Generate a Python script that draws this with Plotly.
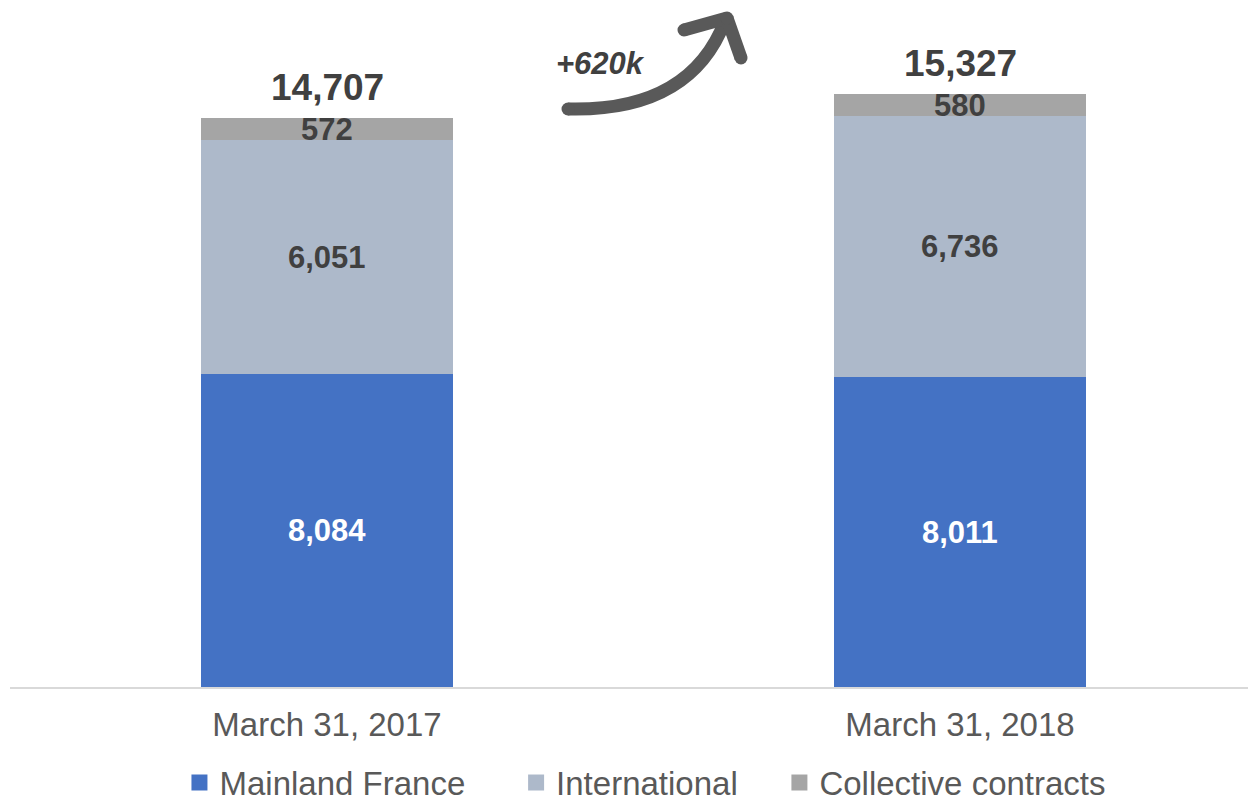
import plotly.graph_objects as go

categories = ["March 31, 2017", "March 31, 2018"]
mainland = [8084, 8011]
international = [6051, 6736]
collective = [572, 580]
series_names = ["Mainland France", "International", "Collective contracts"]
legend_pad = [5, 4, 0]
colors = ["#4472C4", "#ADB9CA", "#A5A5A5"]

totals = [a + b + c for a, b, c in zip(mainland, international, collective)]
xs = list(range(len(categories)))

# page body has an 8px margin; figure starts at (8, 8) in the screenshot
OFF = 8
W, H = 1256 - OFF, 799 - OFF
ML, MR, MT, MB = 10 - OFF, 0, 0, 799 - 687
PW, PH = W - ML - MR, H - MT - MB

def px(x, y):
    # screenshot pixel -> paper coords
    return (x - OFF - ML) / PW, (H - MB - (y - OFF)) / PH

fig = go.Figure()
series = [mainland, international, collective]
for name, vals, col in zip(series_names, series, colors):
    fig.add_trace(go.Bar(x=xs, y=vals, name=name, marker=dict(color=col, line=dict(width=0)),
                         width=0.398, showlegend=False, hoverinfo="skip"))
for name, col, pad in zip(series_names, colors, legend_pad):
    fig.add_trace(go.Scatter(x=[None], y=[None], mode="markers", name=name + "\u00a0" * pad,
                             marker=dict(symbol="square", size=21, color=col)))

annotations = []
for i in xs:
    base = 0
    for k, vals in enumerate(series):
        v = vals[i]
        annotations.append(dict(x=i, y=base + v / 2, xref="x", yref="y", text=f"{v:,}",
                                showarrow=False,
                                font=dict(family="Liberation Sans", size=31, weight="bold",
                                          color="white" if k == 0 else "#404040")))
        base += v
    annotations.append(dict(x=i, y=totals[i], xref="x", yref="y", text=f"{totals[i]:,}",
                            showarrow=False, yanchor="bottom", yshift=8,
                            font=dict(family="Liberation Sans", size=37, weight="bold", color="#404040")))

diff = totals[1] - totals[0]
tx, ty = px(600, 44)
annotations.append(dict(x=tx, y=ty, xref="paper", yref="paper", text=f"+{diff}k", showarrow=False,
                        font=dict(family="Liberation Sans", size=31, weight="bold", style="italic",
                                  color="#404040")))

shapes = []
arrow_col = "#595959"
p0 = px(568, 109); c1 = px(690, 112); p1 = px(725, 21)
shapes.append(dict(type="path", xref="paper", yref="paper",
                   path=f"M {p0[0]},{p0[1]} Q {c1[0]},{c1[1]} {p1[0]},{p1[1]}",
                   line=dict(color=arrow_col, width=13)))
tip = px(727, 18)
for arm in [(684, 30), (741, 58)]:
    a = px(*arm)
    shapes.append(dict(type="line", xref="paper", yref="paper", x0=tip[0], y0=tip[1], x1=a[0], y1=a[1],
                       line=dict(color=arrow_col, width=13)))
for (cx, cy) in [(568, 109), (727, 18), (684, 30), (741, 58)]:
    r = 6.5
    a0 = px(cx - r, cy + r); a1 = px(cx + r, cy - r)
    shapes.append(dict(type="circle", xref="paper", yref="paper", x0=a0[0], y0=a0[1], x1=a1[0], y1=a1[1],
                       fillcolor=arrow_col, line=dict(width=0)))

px_per_unit = (687 - 118) / totals[0]
fig.update_layout(
    width=W, height=H, barmode="stack", bargap=0,
    margin=dict(l=ML, r=MR, t=MT, b=MB, autoexpand=False),
    paper_bgcolor="white", plot_bgcolor="white",
    font=dict(family="Liberation Sans", color="#595959"),
    xaxis=dict(range=[-0.5008, 1.4676], tickvals=xs, ticktext=categories, showgrid=False,
               zeroline=False, showline=True, linecolor="#D9D9D9", linewidth=2, automargin=False,
               tickfont=dict(size=33, color="#595959"), ticks="", ticklabelstandoff=7, fixedrange=True),
    yaxis=dict(range=[0, PH / px_per_unit], visible=False, fixedrange=True, automargin=False),
    legend=dict(orientation="h", x=0.136, xanchor="left", y=-0.0995, yanchor="top",
                font=dict(size=33, color="#595959"), itemwidth=30, tracegroupgap=0,
                traceorder="normal"),
    annotations=annotations, shapes=shapes, showlegend=True,
)

fig.write_html("out.html")
